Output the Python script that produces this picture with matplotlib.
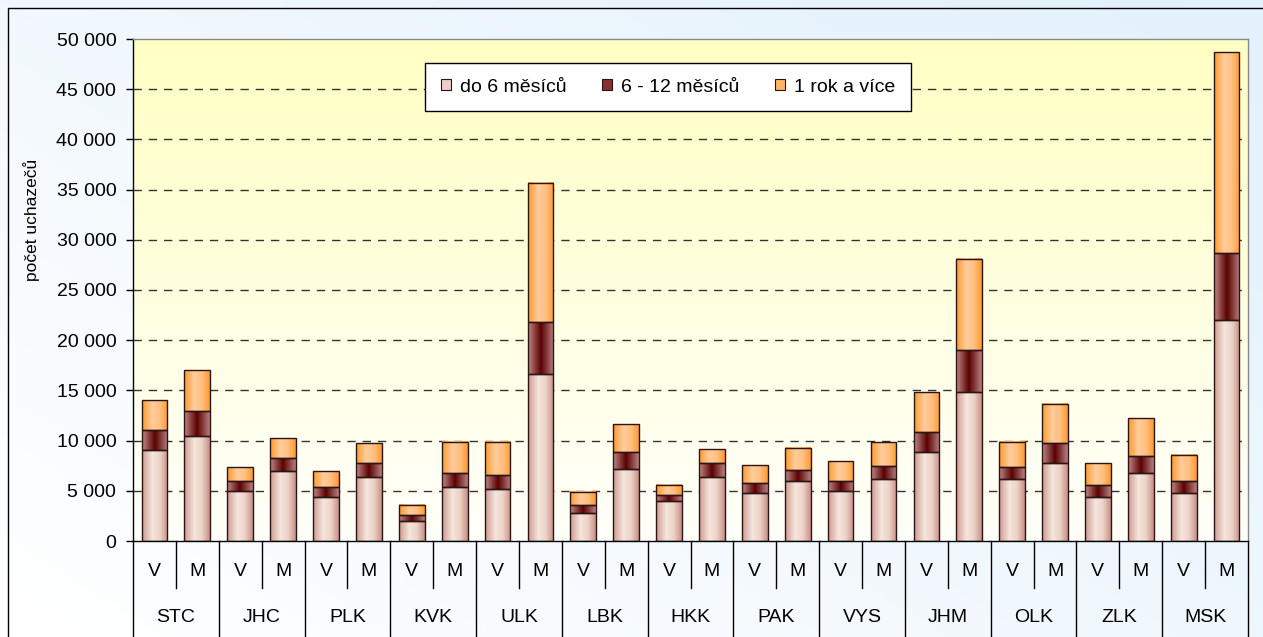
import numpy as np
import matplotlib
matplotlib.use("Agg")
from matplotlib import pyplot as plt
from matplotlib.colors import LinearSegmentedColormap
from matplotlib.patches import Patch
from matplotlib.ticker import FuncFormatter
import matplotlib.transforms as mtransforms

plt.rcParams['font.family'] = ['Liberation Sans', 'DejaVu Sans']

# regions and the two bars per region (V, M)
regions = ['STC', 'JHC', 'PLK', 'KVK', 'ULK', 'LBK', 'HKK',
           'PAK', 'VYS', 'JHM', 'OLK', 'ZLK', 'MSK']
kinds = ['V', 'M']
series_names = ['do 6 měsíců', '6 - 12 měsíců', '1 rok a více']

# order: STC V, STC M, JHC V, JHC M, ...
do6 = [9060, 10460, 4950, 6940, 4350, 6340, 1950, 5350, 5150, 16630,
       2760, 7140, 3950, 6340, 4750, 5950, 4950, 6140, 8900, 14840,
       6140, 7740, 4350, 6740, 4750, 22010]
m6_12 = [2000, 2520, 1000, 1360, 1000, 1400, 610, 1390, 1390, 5150,
         800, 1760, 600, 1400, 1000, 1150, 1000, 1360, 1960, 4150,
         1200, 1990, 1200, 1760, 1200, 6700]
total = [14040, 17000, 7340, 10290, 6940, 9730, 3560, 9890, 9890, 35630,
         4930, 11650, 5550, 9130, 7540, 9300, 7940, 9890, 14840, 28090,
         9890, 13650, 7740, 12280, 8540, 48700]

do6 = np.array(do6)
m6_12 = np.array(m6_12)
rok = np.array(total) - do6 - m6_12

FS = 14

fig = plt.figure(figsize=(12.63, 6.37), dpi=100)

# figure background - light blue gradient
bg = fig.add_axes([0, 0, 1, 1], zorder=-10)
gx, gy = np.meshgrid(np.linspace(0, 1, 200), np.linspace(0, 1, 200))
bg.imshow(0.55 * gx + 0.45 * gy, origin='lower', extent=[0, 1, 0, 1],
          aspect='auto', cmap=LinearSegmentedColormap.from_list(
              'bg', ['#ffffff', '#e2f1fc']))
bg.plot([8 / 1263, 8 / 1263, 1], [0, 1 - 8 / 637, 1 - 8 / 637],
        color='black', lw=1)
bg.set_xlim(0, 1)
bg.set_ylim(0, 1)
bg.axis('off')

ax = fig.add_axes([133 / 1263, 96 / 637, 1115 / 1263, 502 / 637])
ax.set_facecolor('none')

# plot area - yellow gradient
ax.imshow(np.linspace(0, 1, 100).reshape(-1, 1), origin='lower',
          extent=[0, 1, 0, 1], transform=ax.transAxes, aspect='auto',
          cmap=LinearSegmentedColormap.from_list('pa', ['#fffffa', '#ffffc4']),
          zorder=0)

cmaps = [
    LinearSegmentedColormap.from_list(
        'c0', [(0, '#cf9a91'), (0.4, '#f5e6dc'), (0.7, '#ecd2c6'), (1, '#c99088')]),
    LinearSegmentedColormap.from_list(
        'c1', [(0, '#c08a86'), (0.5, '#5a0000'), (1, '#b88080')]),
    LinearSegmentedColormap.from_list(
        'c2', [(0, '#ff9a30'), (0.4, '#ffcc9c'), (0.7, '#ffbf80'), (1, '#ff9a30')]),
]
legend_colors = ['#ecd0c6', '#8a3030', '#ffb466']

x = np.arange(len(do6))
grad = np.linspace(0, 1, 64).reshape(1, -1)
bottom = np.zeros(len(do6))
for vals, cm in zip([do6, m6_12, rok], cmaps):
    bars = ax.bar(x, vals, 0.6, bottom=bottom, facecolor='none',
                  edgecolor='#2a1414', linewidth=1.0, zorder=3)
    for p in bars:
        ax.imshow(grad, extent=[p.get_x(), p.get_x() + p.get_width(),
                                p.get_y(), p.get_y() + p.get_height()],
                  aspect='auto', cmap=cm, zorder=2)
    bottom = bottom + vals

ax.set_xlim(-0.5, len(do6) - 0.5)
ax.set_ylim(0, 50000)

ax.set_yticks(np.arange(0, 50001, 5000))
ax.yaxis.set_major_formatter(
    FuncFormatter(lambda v, pos: f"{v:,.0f}".replace(",", " ")))
ax.tick_params(axis='y', direction='out', length=5, width=1,
               labelsize=FS, pad=7, colors='black')
for yv in np.arange(5000, 50000, 5000):
    ax.axhline(yv, color='#333333', lw=1, ls=(0, (6, 5)), zorder=1)

fig.text(32 / 1263, 1 - 220 / 637, 'počet uchazečů', rotation=90,
         ha='center', va='center', fontsize=12.5)

# category axis: V / M and region labels
ax.set_xticks([])
trans = mtransforms.blended_transform_factory(ax.transData, ax.transAxes)
for i in x:
    ax.text(i, -0.06, kinds[i % 2], transform=trans, ha='center',
            va='center', fontsize=FS)
for g, name in enumerate(regions):
    ax.text(2 * g + 0.5, -0.153, name, transform=trans, ha='center',
            va='center', fontsize=FS)
    ax.plot([2 * g + 0.5, 2 * g + 0.5], [0, -0.094], transform=trans,
            color='black', lw=1, clip_on=False)
for g in range(len(regions) + 1):
    ax.plot([2 * g - 0.5, 2 * g - 0.5], [0, -0.2], transform=trans,
            color='black', lw=1, clip_on=False)

for s in ['top', 'right']:
    ax.spines[s].set_color('#888888')
    ax.spines[s].set_linewidth(1)
for s in ['left', 'bottom']:
    ax.spines[s].set_color('black')
    ax.spines[s].set_linewidth(1)

handles = [Patch(facecolor=c, edgecolor='#2a1414', lw=0.8)
           for c in legend_colors]
leg = ax.legend(handles, series_names, loc='upper center',
                bbox_to_anchor=(0.48, 0.952), ncol=3, fontsize=FS,
                frameon=True, fancybox=False, edgecolor='black',
                framealpha=1, handlelength=0.5, handleheight=0.5,
                handletextpad=0.5, columnspacing=1.8, borderpad=0.8,
                borderaxespad=0)
leg.get_frame().set_linewidth(1)
leg.set_zorder(5)

fig.savefig('out.png', dpi=100)
